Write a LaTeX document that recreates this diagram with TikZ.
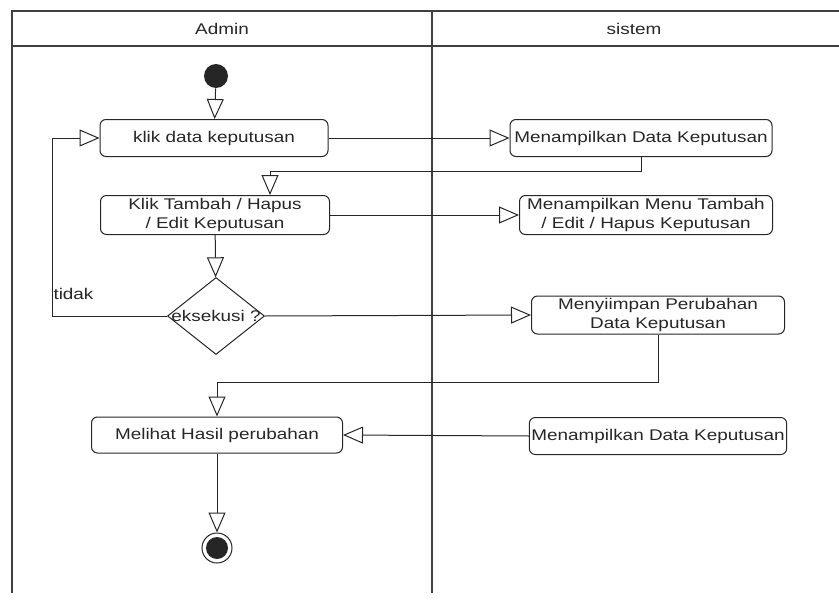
\documentclass[tikz,border=0pt]{standalone}
\usepackage{fontspec}
\setmainfont{Liberation Sans}[FakeStretch=1.22]
\usetikzlibrary{arrows.meta, positioning, shapes.geometric}

\begin{document}
\begin{tikzpicture}[x=1pt, y=-1pt, line width=1pt, color=black!85,
      act/.style={draw, rounded corners=6pt, align=center, inner sep=2pt,
                  font=\fontsize{15.5}{19}\selectfont},
      flow/.style={-{Triangle[open, length=20pt, width=17pt]}},
      lane/.style={draw=black!75, line width=1.3pt},
      lbl/.style={font=\fontsize{15.5}{19}\selectfont, inner sep=1pt}]

    \useasboundingbox (0,0) rectangle (839,608);

    % --- swimlanes: Admin | sistem ---
    \draw[lane] (839,11) -- (12,11) -- (12,593);
    \draw[lane] (12,46) -- (839,46);
    \draw[lane] (432,11) -- (432,593);
    \node[lbl] (admin)  at (222,29) {Admin};
    \node[lbl] (sistem) at (634,29) {sistem};

    % --- Admin lane ---
    \node[circle, fill, minimum size=24pt, inner sep=0] (start) at (216,76) {};
    \node[act, minimum width=228pt, minimum height=37pt] (klik)   at (214,138) {klik data keputusan};
    \node[act, minimum width=229pt, minimum height=39pt] (tambah) at (215,215) {Klik Tambah / Hapus\\/ Edit Keputusan};
    \node[diamond, draw, minimum width=97pt, minimum height=77pt, inner sep=0,
          label={[lbl]center:eksekusi ?}] (cek) at (216,316) {};
    \node[act, minimum width=251pt, minimum height=36pt] (hasil)  at (217,435) {Melihat Hasil perubahan};
    \node[circle, draw, minimum size=30pt, inner sep=0,
          path picture={\fill (path picture bounding box.center) circle (11pt);}] (stop) at (217,548) {};

    % --- sistem lane ---
    \node[act, minimum width=262pt, minimum height=37pt] (tampil)  at (641,138) {Menampilkan Data Keputusan};
    \node[act, minimum width=253pt, minimum height=39pt] (menu)    at (646,215) {Menampilkan Menu Tambah\\/ Edit / Hapus Keputusan};
    \node[act, minimum width=253pt, minimum height=38pt] (simpan)  at (658,315) {Menyiimpan Perubahan\\Data Keputusan};
    \node[act, minimum width=254pt, minimum height=37pt] (tampil2) at (658,436) {Menampilkan Data Keputusan};

    % ======= flow =======
    \draw[flow] (start) -- (klik);
    \draw[flow] (klik) -- (tampil);
    \draw[flow] (tampil.south) -- ++(0,14) -| ([xshift=55pt]tambah.north);
    \draw[flow] (tambah) -- (menu);
    \draw[flow] (tambah) -- (cek);

    % tidak: back to klik along the left margin
    \draw[flow] (cek.west) -- ++(-115,0) coordinate (back) |- (klik.west);
    \node[lbl, anchor=base west] (tidak) at ([yshift=17pt]back) {tidak};

    \draw[flow] (cek.east) -- (simpan.west);
    \draw[flow] (simpan.south) -- ++(0,48) -| (hasil.north);
    \draw[flow] (tampil2.west) -- (hasil.east);
    \draw[flow] (hasil) -- (stop);

\end{tikzpicture}
\end{document}
